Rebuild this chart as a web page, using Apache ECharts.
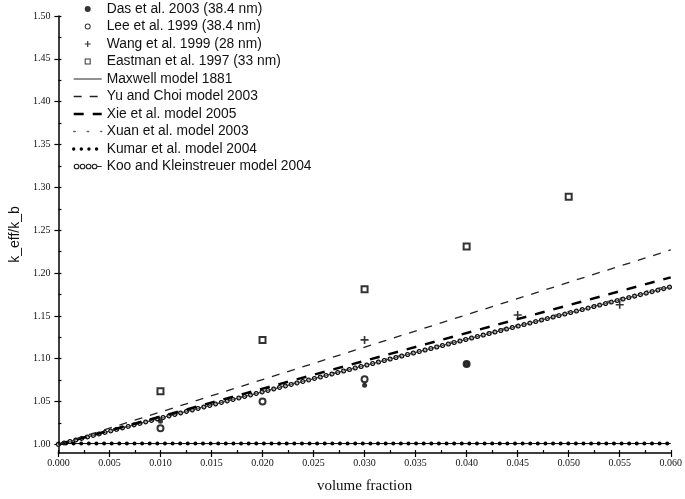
<!DOCTYPE html>
<html>
<head>
<meta charset="utf-8">
<script src="https://cdn.jsdelivr.net/npm/echarts@6/dist/echarts.min.js"></script>
<style>
html,body{margin:0;padding:0;background:#fff;}
#chart{width:685px;height:499px;}
</style>
</head>
<body>
<div id="chart"></div>
<script>
// ---- data ----
var xTickLabels = [0, 0.005, 0.010, 0.015, 0.020, 0.025, 0.030, 0.035, 0.040, 0.045, 0.050, 0.055, 0.060];
var xMinorTicks = [0.0025, 0.0075, 0.0125, 0.0175, 0.0225, 0.0275, 0.0325, 0.0375, 0.0425, 0.0475, 0.0525, 0.0575];
var yTickLabels = [1.00, 1.05, 1.10, 1.15, 1.20, 1.25, 1.30, 1.35, 1.40, 1.45, 1.50];
var yMinorTicks = [1.025, 1.075, 1.125, 1.175, 1.225, 1.275, 1.325, 1.375, 1.425, 1.475];

var dasData      = [[0.010, 1.027], [0.030, 1.069], [0.040, 1.094]];
var leeData      = [[0.010, 1.019], [0.020, 1.050], [0.030, 1.076], [0.040, 1.094]];
var wangData     = [[0.030, 1.122], [0.045, 1.151], [0.055, 1.163]];
var eastmanData  = [[0.010, 1.062], [0.020, 1.122], [0.030, 1.181], [0.040, 1.231], [0.050, 1.289]];

var maxwellData  = [[0, 1.000], [0.060, 1.184]];
var yuChoiData   = [[0, 1.000], [0.060, 1.227]];
var xieData      = [[0, 1.000], [0.060, 1.195]];
var xuanData     = [[0, 1.000], [0.060, 1.186]];
var kumarData    = [[0, 1.001], [0.060, 1.001]];
var kooData      = [[0, 1.000], [0.060, 1.184]];

var names = ['Das et al. 2003 (38.4 nm)', 'Lee et al. 1999 (38.4 nm)', 'Wang et al. 1999 (28 nm)',
  'Eastman et al. 1997 (33 nm)', 'Maxwell model 1881', 'Yu and Choi model 2003', 'Xie et al. model 2005',
  'Xuan et al. model 2003', 'Kumar et al. model 2004', 'Koo and Kleinstreuer model 2004'];

// ---- styling ----
var plusPath = 'path://M4,0h2v4h4v2h-4v4h-2v-4h-4v-2h4z';
function ring(cx, cy, r1, r2) {
  return 'M' + (cx - r1) + ',' + cy + 'a' + r1 + ',' + r1 + ' 0 1,0 ' + (2 * r1) + ',0a' + r1 + ',' + r1 + ' 0 1,0 ' + (-2 * r1) + ',0z' +
         'M' + (cx - r2) + ',' + cy + 'a' + r2 + ',' + r2 + ' 0 1,1 ' + (2 * r2) + ',0a' + r2 + ',' + r2 + ' 0 1,1 ' + (-2 * r2) + ',0z';
}
var kooIcon = 'path://' + ring(3, 3, 2.6, 1.6) + ring(8.5, 3, 2.6, 1.6) + ring(14, 3, 2.6, 1.6) + ring(19.5, 3, 2.6, 1.6) + 'M22,2.6h4v0.8h-4z';
var leeIcon = 'path://' + ring(3, 3, 3, 2);
var eastIcon = 'path://M0,0h6v6h-6zM1,1v4h4v-4z';
var dasIcon = 'path://' + 'M0,3a3,3 0 1,0 6,0a3,3 0 1,0 -6,0z';
var hideSym = { opacity: 0 };

function lineSeries(name, data, ls, z) {
  return { name: name, type: 'line', data: data, symbol: 'none', silent: true, animation: false,
           lineStyle: ls, itemStyle: { color: ls.color }, z: z || 2 };
}

var chart = echarts.init(document.getElementById('chart'), null, { renderer: 'canvas' });

var serif = 'Liberation Serif';
var sans = 'Liberation Sans';

var option = {
  animation: false,
  backgroundColor: '#fff',
  grid: { left: 55, right: 14, top: 16, bottom: 38, containLabel: false },
  xAxis: [{
    type: 'value', min: 0, max: 0.06,
    name: 'volume fraction', nameLocation: 'middle', nameGap: 26,
    nameTextStyle: { fontFamily: serif, fontSize: 15, color: '#111' },
    axisLine: { show: true, onZero: false, lineStyle: { color: '#000', width: 1.5 } },
    axisTick: { show: true, customValues: xTickLabels, length: 4, inside: false, lineStyle: { color: '#000', width: 1.2 } },
    axisLabel: { customValues: xTickLabels, formatter: function (v) { return v.toFixed(3); },
                 fontFamily: serif, fontSize: 10, color: '#111', margin: 5 },
    splitLine: { show: false }
  }, {
    type: 'value', min: 0, max: 0.06, position: 'bottom',
    axisLine: { show: false, onZero: false },
    axisTick: { show: true, customValues: xTickLabels.concat(xMinorTicks), length: 3, inside: true, lineStyle: { color: '#000', width: 1.2 } },
    axisLabel: { show: false },
    splitLine: { show: false }
  }],
  yAxis: [{
    type: 'value', min: 0.99, max: 1.5,
    name: 'k_eff/k_b', nameLocation: 'middle', nameGap: 36, nameRotate: 90,
    nameTextStyle: { fontFamily: sans, fontSize: 14, color: '#111' },
    axisLine: { show: true, onZero: false, lineStyle: { color: '#000', width: 1.5 } },
    axisTick: { show: true, customValues: yTickLabels, length: 4, inside: false, lineStyle: { color: '#000', width: 1.2 } },
    axisLabel: { customValues: yTickLabels, formatter: function (v) { return v.toFixed(2); },
                 fontFamily: serif, fontSize: 10, color: '#111', margin: 8 },
    splitLine: { show: false }
  }, {
    type: 'value', min: 0.99, max: 1.5, position: 'left',
    axisLine: { show: false, onZero: false },
    axisTick: { show: true, customValues: yTickLabels.concat(yMinorTicks), length: 3, inside: true, lineStyle: { color: '#000', width: 1.2 } },
    axisLabel: { show: false },
    splitLine: { show: false }
  }],
  legend: {
    orient: 'vertical', left: 67, top: -3,
    itemWidth: 28, itemHeight: 6, itemGap: 3.5,
    textStyle: { fontFamily: sans, fontSize: 13.8, color: '#111' },
    selectedMode: false,
    data: [
      { name: names[0], icon: dasIcon, itemStyle: { color: '#000', borderWidth: 0 } },
      { name: names[1], icon: leeIcon, itemStyle: { color: '#000', borderWidth: 0 } },
      { name: names[2] },
      { name: names[3], icon: eastIcon, itemStyle: { color: '#000', borderWidth: 0 } },
      { name: names[4], lineStyle: { width: 1 }, itemStyle: hideSym },
      { name: names[5], lineStyle: { width: 1.3 }, itemStyle: hideSym },
      { name: names[6], lineStyle: { width: 2.5 }, itemStyle: hideSym },
      { name: names[7], lineStyle: { width: 1.5 }, itemStyle: hideSym },
      { name: names[8], lineStyle: { width: 3.4 }, itemStyle: hideSym },
      { name: names[9], icon: kooIcon, itemStyle: { color: '#222', borderWidth: 0 } }
    ]
  },
  series: [
    // Kumar: thin line + dots
    lineSeries(names[8], kumarData, { color: '#000', width: 4, type: [0.01, 7.6], cap: 'round' }, 3),
    lineSeries(names[8], kumarData, { color: '#000', width: 1 }, 3),
    // Maxwell
    lineSeries(names[4], maxwellData, { color: '#222', width: 1 }, 2),
    // Xuan
    lineSeries(names[7], xuanData, { color: '#666', width: 1.5, type: [1.5, 12], cap: 'round' }, 2),
    // Koo: rings
    lineSeries(names[9], kooData, { color: '#111', width: 5, type: [0.01, 6], cap: 'round' }, 3),
    lineSeries(names[9], kooData, { color: '#fff', width: 2.4, type: [0.01, 6], cap: 'round' }, 3),
    lineSeries(names[9], kooData, { color: '#333', width: 0.8 }, 3),
    // Xie
    lineSeries(names[6], xieData, { color: '#000', width: 2.5, type: [10, 9] }, 4),
    // Yu & Choi
    lineSeries(names[5], yuChoiData, { color: '#222', width: 1.3, type: [8, 8] }, 4),
    // experiments
    { name: names[0], type: 'scatter', data: dasData, symbol: 'circle', symbolSize: 5,
      itemStyle: { color: '#000' }, z: 6, animation: false },
    { name: names[1], type: 'scatter', data: leeData, symbol: 'emptyCircle', symbolSize: 6,
      itemStyle: { color: '#000', borderWidth: 1 }, z: 5, animation: false },
    { name: names[2], type: 'scatter', data: wangData, symbol: plusPath, symbolSize: 8,
      itemStyle: { color: '#000' }, z: 6, animation: false },
    { name: names[3], type: 'scatter', data: eastmanData, symbol: 'emptyRect', symbolSize: 6,
      itemStyle: { color: '#000', borderWidth: 1 }, z: 6, animation: false }
  ]
};
chart.setOption(option);
</script>
</body>
</html>
